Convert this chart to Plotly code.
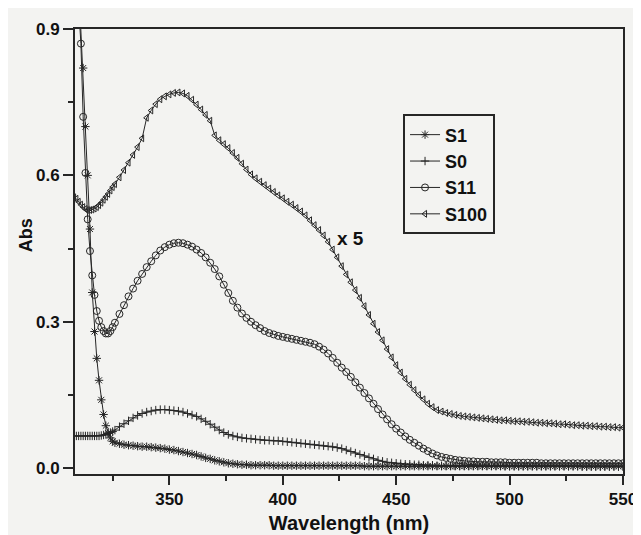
import plotly.graph_objects as go

# Wavelength grid (nm)
wavelength = list(range(308, 327)) + list(range(328, 551, 2))

s1 = [1.20, 1.10, 1.00, 0.91, 0.82, 0.70, 0.60, 0.49, 0.36, 0.28,
      0.225, 0.18, 0.14, 0.11, 0.087, 0.072, 0.062, 0.055, 0.052,
      0.050, 0.048, 0.047, 0.046, 0.045, 0.044, 0.044, 0.043, 0.042, 0.041,
      0.040, 0.038, 0.037, 0.035, 0.033, 0.031, 0.029, 0.027, 0.024, 0.021,
      0.019, 0.016, 0.014, 0.012, 0.010, 0.009, 0.008, 0.007, 0.007, 0.006,
      0.006, 0.006, 0.006, 0.006, 0.005, 0.005, 0.005, 0.005, 0.005, 0.005,
      0.005, 0.005, 0.005, 0.005, 0.005, 0.005, 0.005, 0.005, 0.005, 0.005,
      0.005, 0.005, 0.005, 0.005, 0.004, 0.004, 0.004, 0.004, 0.004, 0.004,
      0.004, 0.004, 0.004, 0.004, 0.004, 0.004, 0.004, 0.004, 0.004, 0.004,
      0.004, 0.004, 0.004, 0.004, 0.004, 0.004, 0.004, 0.004, 0.004, 0.004,
      0.004, 0.004, 0.004, 0.004, 0.004, 0.004, 0.004, 0.004, 0.004, 0.004,
      0.004, 0.004, 0.004, 0.004, 0.004, 0.004, 0.004, 0.004, 0.004, 0.004,
      0.004, 0.004, 0.004, 0.004, 0.004, 0.004, 0.004, 0.004, 0.004, 0.004,
      0.004, 0.004]

s0 = [0.066, 0.066, 0.066, 0.066, 0.066, 0.066, 0.066, 0.066, 0.066, 0.066,
      0.066, 0.066, 0.067, 0.068, 0.069, 0.071, 0.073, 0.075, 0.078,
      0.085, 0.091, 0.097, 0.103, 0.108, 0.112, 0.115, 0.117, 0.119, 0.120,
      0.120, 0.119, 0.118, 0.117, 0.115, 0.112, 0.109, 0.106, 0.101, 0.096,
      0.090, 0.084, 0.078, 0.073, 0.069, 0.066, 0.064, 0.062, 0.061, 0.060,
      0.059, 0.058, 0.057, 0.057, 0.056, 0.056, 0.055, 0.054, 0.053, 0.052,
      0.051, 0.050, 0.049, 0.048, 0.047, 0.046, 0.045, 0.044, 0.042, 0.040,
      0.037, 0.034, 0.031, 0.028, 0.025, 0.022, 0.019, 0.016, 0.014, 0.012,
      0.011, 0.010, 0.009, 0.008, 0.008, 0.007, 0.007, 0.006, 0.006, 0.006,
      0.005, 0.005, 0.005, 0.005, 0.005, 0.005, 0.005, 0.005, 0.005, 0.005,
      0.005, 0.005, 0.005, 0.005, 0.005, 0.004, 0.004, 0.004, 0.004, 0.004,
      0.004, 0.004, 0.004, 0.004, 0.004, 0.004, 0.004, 0.004, 0.004, 0.004,
      0.004, 0.004, 0.003, 0.003, 0.003, 0.003, 0.003, 0.003, 0.003, 0.003,
      0.003, 0.003]

s11 = [1.10, 1.02, 0.95, 0.87, 0.72, 0.605, 0.51, 0.445, 0.395, 0.355,
       0.322, 0.302, 0.289, 0.281, 0.276, 0.276, 0.281, 0.289, 0.298,
       0.316, 0.334, 0.352, 0.368, 0.384, 0.398, 0.412, 0.424, 0.436, 0.446,
       0.453, 0.458, 0.461, 0.462, 0.461, 0.458, 0.454, 0.448, 0.441, 0.432,
       0.421, 0.408, 0.393, 0.376, 0.359, 0.343, 0.329, 0.317, 0.308, 0.300,
       0.293, 0.287, 0.281, 0.277, 0.274, 0.271, 0.269, 0.267, 0.265, 0.263,
       0.261, 0.259, 0.257, 0.254, 0.249, 0.243, 0.235, 0.226, 0.216, 0.206,
       0.197, 0.187, 0.176, 0.165, 0.154, 0.143, 0.132, 0.121, 0.110, 0.100,
       0.090, 0.081, 0.073, 0.065, 0.058, 0.052, 0.046, 0.040, 0.035, 0.030,
       0.026, 0.023, 0.021, 0.019, 0.017, 0.016, 0.015,
       0.014, 0.014, 0.013, 0.013, 0.013, 0.012, 0.012, 0.012, 0.012, 0.011,
       0.011, 0.011, 0.011, 0.011, 0.011, 0.011, 0.010, 0.010, 0.010, 0.010,
       0.010, 0.010, 0.010, 0.010, 0.010, 0.010, 0.010, 0.010, 0.010, 0.010,
       0.010, 0.010, 0.010, 0.010, 0.010]

s100 = [0.555, 0.552, 0.546, 0.540, 0.535, 0.531, 0.529, 0.529, 0.530, 0.532,
        0.535, 0.539, 0.544, 0.550, 0.556, 0.562, 0.569, 0.576, 0.582,
        0.596, 0.611, 0.626, 0.642, 0.658, 0.676, 0.718, 0.733, 0.746, 0.756,
        0.762, 0.766, 0.769, 0.770, 0.768, 0.763, 0.755, 0.745, 0.735, 0.724,
        0.712, 0.682, 0.672, 0.664, 0.656, 0.646, 0.636, 0.624, 0.612, 0.602,
        0.594, 0.587, 0.580, 0.573, 0.566, 0.559, 0.553, 0.546, 0.540, 0.533,
        0.526, 0.518, 0.508, 0.498, 0.488, 0.477, 0.464, 0.448, 0.432, 0.414,
        0.397, 0.381, 0.365, 0.349, 0.332, 0.314, 0.296, 0.279, 0.262, 0.244,
        0.227, 0.211, 0.196, 0.183, 0.171, 0.160, 0.150, 0.141, 0.132, 0.125,
        0.119, 0.116, 0.113, 0.111, 0.109, 0.107, 0.106,
        0.105, 0.104, 0.103, 0.102, 0.101, 0.100, 0.099, 0.098, 0.098, 0.097,
        0.096, 0.096, 0.095, 0.095, 0.094, 0.093, 0.093, 0.092, 0.092, 0.091,
        0.090, 0.090, 0.089, 0.088, 0.088, 0.087, 0.087, 0.086, 0.086, 0.085,
        0.085, 0.084, 0.084, 0.083, 0.083]

series_names = ["S1", "S0", "S11", "S100"]
series_values = [s1, s0, s11, s100]
series_symbols = ["asterisk-open", "cross-thin-open", "circle-open", "triangle-left-open"]
series_sizes = [7, 6, 7, 6]

INK = "#262626"
BG = "#f3f3f1"
FONT = "Liberation Sans, Arial, sans-serif"

fig = go.Figure()
for name, vals, sym, sz in zip(series_names, series_values, series_symbols, series_sizes):
    fig.add_trace(go.Scatter(
        x=wavelength, y=vals, name=name, mode="lines+markers",
        line=dict(color=INK, width=1),
        marker=dict(symbol=sym, size=sz, color=INK, line=dict(color=INK, width=1)),
    ))

fig.add_annotation(x=429.7, y=0.471, xref="x", yref="y", text="x 5", showarrow=False,
                   font=dict(family=FONT, size=19, color="#111", weight="bold"))

# y-axis title placed as in the original (slightly above centre)
fig.add_annotation(x=-0.0896, y=0.5364, xref="paper", yref="paper", text="Abs",
                   textangle=-90, showarrow=False, xanchor="center", yanchor="middle",
                   font=dict(family=FONT, size=18, color="#111", weight="bold"))

axis_common = dict(
    showline=True, linewidth=2, linecolor=INK, mirror=True,
    showgrid=False, zeroline=False, ticks="outside", tickwidth=2, tickcolor=INK,
    tickfont=dict(family=FONT, size=17, color="#111", weight="bold"),
)

fig.update_xaxes(range=[308.4, 550], dtick=50, tick0=0, ticklen=9,
                 minor=dict(dtick=25, ticks="outside", ticklen=5, tickwidth=2, tickcolor=INK),
                 title=dict(text="Wavelength (nm)", standoff=8,
                            font=dict(family=FONT, size=20, color="#111", weight="bold")),
                 **axis_common)
fig.update_yaxes(range=[-0.012, 0.9], dtick=0.3, tick0=0, ticklen=10, tickformat=".1f",
                 minor=dict(dtick=0.15, ticks="outside", ticklen=5, tickwidth=2, tickcolor=INK),
                 **axis_common)

fig.update_layout(
    width=641, height=535,
    margin=dict(l=67, r=16, t=19, b=63),
    paper_bgcolor=BG, plot_bgcolor=BG,
    showlegend=True,
    legend=dict(x=0.5986, y=0.808, xanchor="left", yanchor="top",
                bgcolor=BG, bordercolor=INK, borderwidth=2,
                font=dict(family=FONT, size=18, color="#111", weight="bold"),
                tracegroupgap=0, itemwidth=30),
)

fig.write_html("out.html")
